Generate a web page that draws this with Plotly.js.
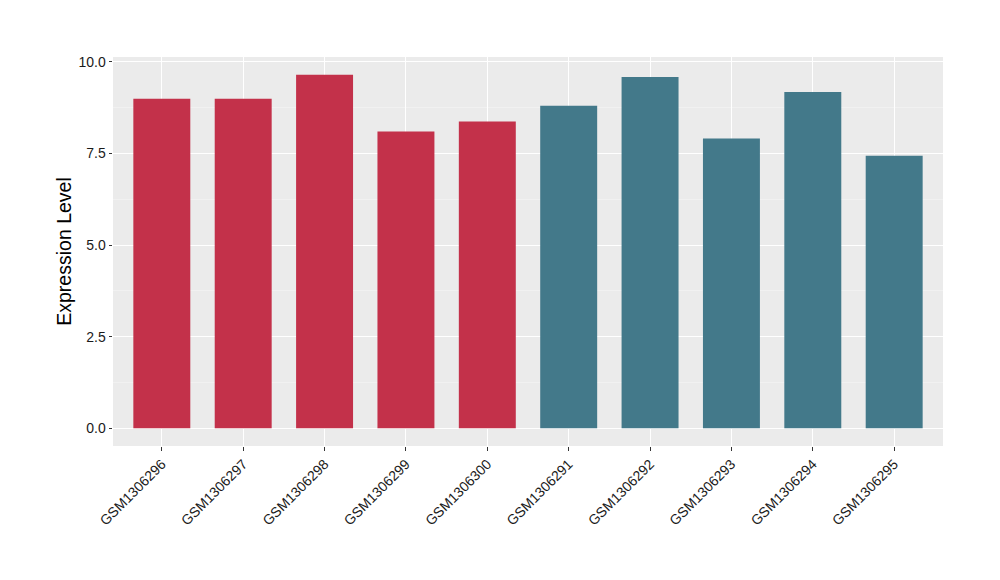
<!DOCTYPE html>
<html>
<head>
<meta charset="utf-8">
<script src="https://cdn.plot.ly/plotly-3.0.1.min.js"></script>
<style>html,body{margin:0;padding:0;background:#fff;}#chart{width:1000px;height:580px;}</style>
</head>
<body>
<div id="chart"></div>
<script>
const samples = ["GSM1306296","GSM1306297","GSM1306298","GSM1306299","GSM1306300","GSM1306291","GSM1306292","GSM1306293","GSM1306294","GSM1306295"];
const expression = [8.99, 8.99, 9.65, 8.10, 8.37, 8.80, 9.59, 7.91, 9.18, 7.44];
const groups = ["A","A","A","A","A","B","B","B","B","B"];
const groupColors = {A: "#C3314A", B: "#43798A"};
const yTickVals = [0, 2.5, 5, 7.5, 10];
const yTickText = ["0.0", "2.5", "5.0", "7.5", "10.0"];

const trace = {
  type: "bar",
  x: samples,
  y: expression,
  marker: {color: groups.map(g => groupColors[g]), line: {width: 0}},
  width: 0.7,
  hoverinfo: "x+y"
};

const fam = "Liberation Sans, Arial, sans-serif";

const layout = {
  width: 1000, height: 580,
  margin: {l: 113, r: 57.3, t: 56.7, b: 134.3},
  paper_bgcolor: "#ffffff",
  plot_bgcolor: "#EBEBEB",
  showlegend: false,
  font: {family: fam, size: 14, color: "#1a1a1a"},
  xaxis: {
    type: "category",
    range: [-0.6, 9.6],
    tickangle: -45,
    ticks: "outside", ticklen: 3.5, tickwidth: 1, tickcolor: "#333333",
    showgrid: true, gridcolor: "#ffffff", gridwidth: 1.1,
    zeroline: false, showline: false,
    tickfont: {family: fam, size: 14, color: "#1a1a1a"}
  },
  yaxis: {
    range: [-0.4825, 10.1325],
    tickvals: yTickVals, ticktext: yTickText,
    ticks: "outside", ticklen: 3.5, tickwidth: 1, tickcolor: "#333333",
    showgrid: true, gridcolor: "#ffffff", gridwidth: 1.1,
    minor: {tickvals: [1.25, 3.75, 6.25, 8.75], showgrid: true, gridcolor: "#F5F5F5", gridwidth: 0.6, ticks: ""},
    zeroline: false, showline: false,
    tickfont: {family: fam, size: 14, color: "#1a1a1a"},
    title: {text: "Expression Level", font: {family: fam, size: 19.5, color: "#000000"}, standoff: 1}
  },
  bargap: 0.3
};

Plotly.newPlot("chart", [trace], layout, {displayModeBar: false, staticPlot: true});
</script>
</body>
</html>
